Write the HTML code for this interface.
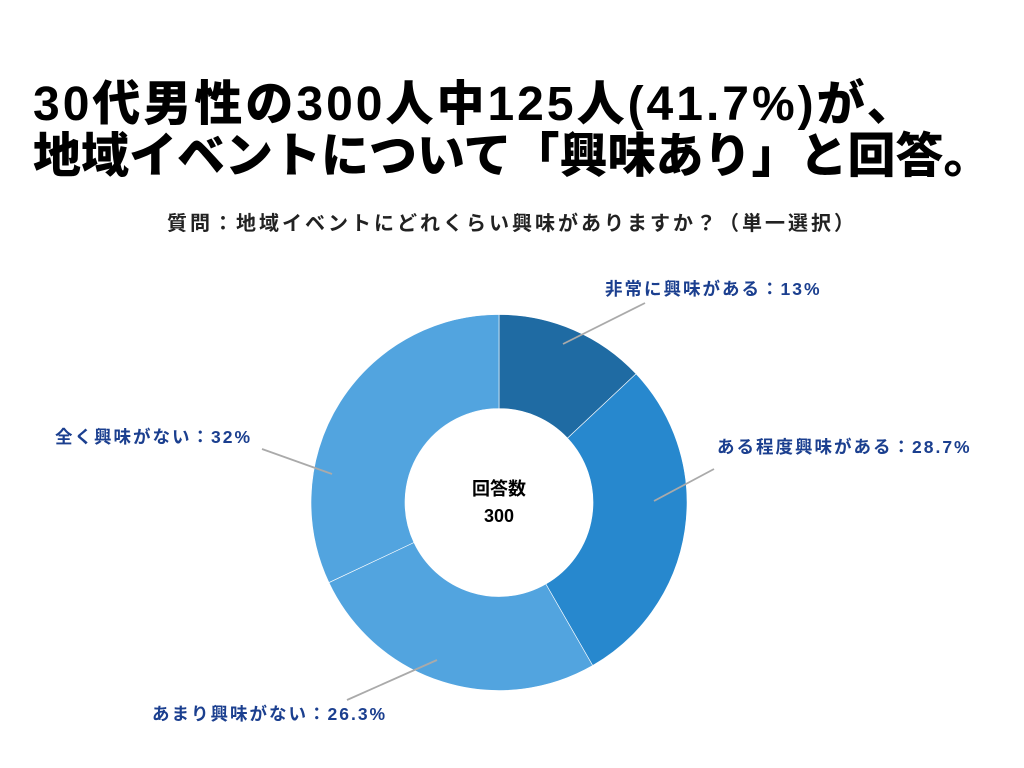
<!DOCTYPE html>
<html><head><meta charset="utf-8"><style>
body{margin:0;width:1024px;height:768px;background:#fff;overflow:hidden;font-family:"Liberation Sans","Noto Sans CJK JP",sans-serif}
.t{position:absolute;left:33px;font-weight:900;font-size:48px;color:#000;white-space:nowrap}
</style></head><body>
<div class="t" style="top:64px;letter-spacing:3px">30代男性の300人中125人(41.7%)が、</div>
<div class="t" style="top:116px">地域イベントについて「興味あり」と回答。</div>
<div style="position:absolute;top:207px;left:0;width:1024px;text-align:center;font-weight:bold;font-size:20px;letter-spacing:3px;color:#222">質問：地域イベントにどれくらい興味がありますか？（単一選択）</div>
<svg id="c" width="1024" height="768" style="position:absolute;left:0;top:0"></svg>
<script>
const categories=["非常に興味がある","ある程度興味がある","あまり興味がない","全く興味がない"];
const values=[13,28.7,26.3,32];
const colors=["#1f6ba3","#2788ce","#52a4df","#52a4df"];
const labelText=["非常に興味がある：13%","ある程度興味がある：28.7%","あまり興味がない：26.3%","全く興味がない：32%"];
const labelPos=[[605,295,645,303,563,344],[717,453,714,469,654,501],[152,720,347,700,437,660],[55,443,262,449,332,474]];
const cx=499,cy=502.5,R=188,r=94;
const svg=document.getElementById('c');const NS="http://www.w3.org/2000/svg";
const tot=values.reduce((a,b)=>a+b,0);
function pt(a,rad){return [cx+rad*Math.sin(a),cy-rad*Math.cos(a)];}
let acc=0;
values.forEach((v,i)=>{
 const a0=acc/tot*2*Math.PI;acc+=v;const a1=acc/tot*2*Math.PI;
 const big=(a1-a0)>Math.PI?1:0;
 const p0=pt(a0,R),p1=pt(a1,R),q1=pt(a1,r),q0=pt(a0,r);
 const p=document.createElementNS(NS,'path');
 p.setAttribute('d',`M${p0} A${R},${R} 0 ${big} 1 ${p1} L${q1} A${r},${r} 0 ${big} 0 ${q0}Z`);
 p.setAttribute('fill',colors[i]);p.setAttribute('stroke','#fff');p.setAttribute('stroke-width','0.6');
 
 
 svg.appendChild(p);
 const L=labelPos[i];
 const ln=document.createElementNS(NS,'line');
 ln.setAttribute('x1',L[4]);ln.setAttribute('y1',L[5]);ln.setAttribute('x2',L[2]);ln.setAttribute('y2',L[3]);
 ln.setAttribute('stroke','#aaa');ln.setAttribute('stroke-width','1.8');
 
 
 svg.appendChild(ln);
 const t=document.createElementNS(NS,'text');
 t.setAttribute('x',L[0]);t.setAttribute('y',L[1]);
 t.setAttribute('font-size','17.5');t.setAttribute('font-weight','bold');t.setAttribute('fill','#1b3f8f');
 t.setAttribute('letter-spacing','2');
 t.textContent=labelText[i];
 
 
 svg.appendChild(t);
});
[["回答数",495],["300",522]].forEach((d,i)=>{
 const t=document.createElementNS(NS,'text');
 t.setAttribute('x',cx);t.setAttribute('y',d[1]);t.setAttribute('text-anchor','middle');
 t.setAttribute('font-size','18');t.setAttribute('font-weight','bold');t.setAttribute('fill','#000');
 t.textContent=d[0];
 
 
 svg.appendChild(t);
});
</script>
</body></html>
